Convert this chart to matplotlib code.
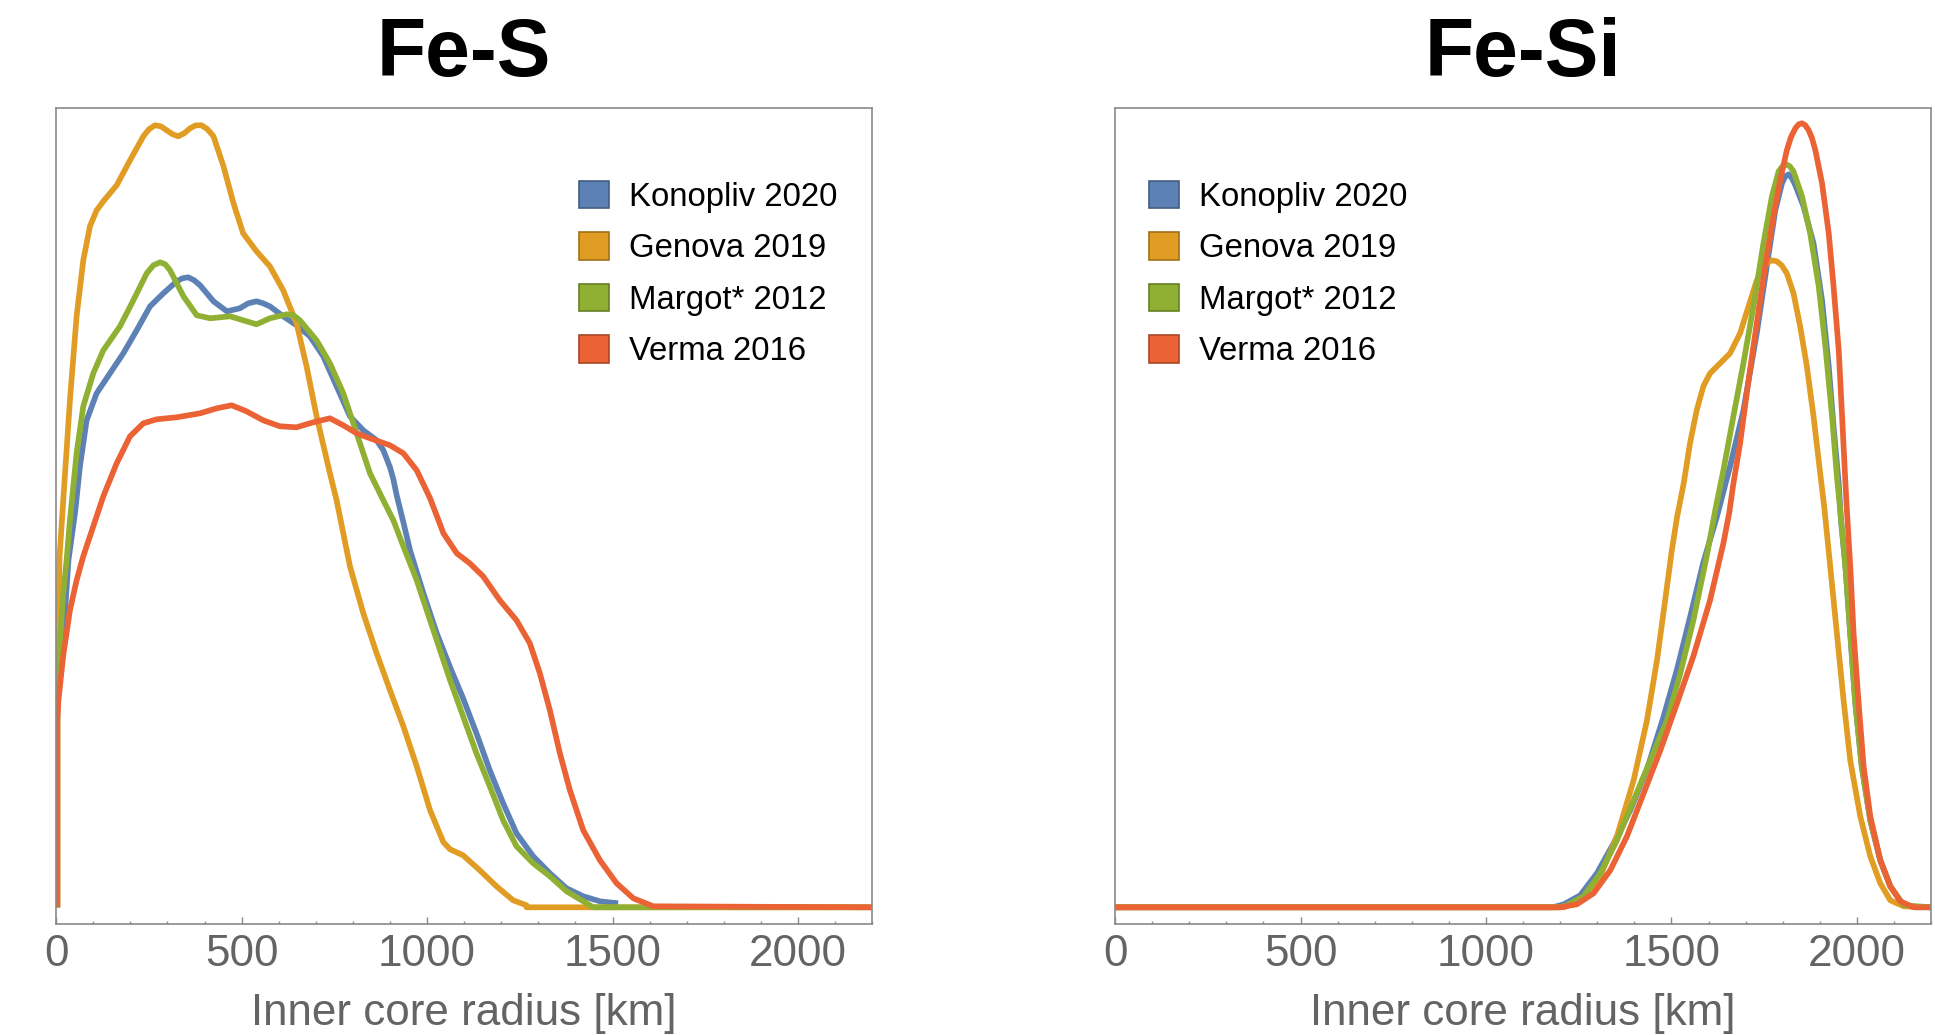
import matplotlib
matplotlib.use("Agg")
import matplotlib.pyplot as plt
from matplotlib.patches import Patch
from matplotlib.ticker import MultipleLocator
from matplotlib.colors import to_rgb

plt.rcParams['font.family'] = ['Liberation Sans', 'DejaVu Sans']

names = ["Konopliv 2020", "Genova 2019", "Margot* 2012", "Verma 2016"]
colors = ["#5E81B5", "#E19C24", "#8FB032", "#EB6235"]

# Fe-S panel (radius in km, density in arbitrary units)
konopliv_s_x = [3, 3, 15, 33, 51, 64, 82, 109, 145, 181, 217, 253, 289, 325, 340, 356,
                372, 388, 424, 460, 495, 518, 540, 558, 576, 612, 648, 684, 720, 756,
                792, 828, 864, 882, 900, 909, 918, 936, 954, 990, 1026, 1062, 1097,
                1133, 1169, 1205, 1241, 1286, 1331, 1376, 1421, 1466, 1515]
konopliv_s_y = [0, .200, .247, .347, .395, .441, .487, .514, .534, .554, .577, .601, .614,
                .626, .629, .630, .627, .622, .606, .596, .599, .604, .606, .604, .601,
                .591, .582, .571, .551, .521, .491, .477, .467, .457, .440, .428, .412,
                .385, .357, .314, .274, .240, .209, .174, .137, .104, .074, .051, .034,
                .019, .011, .006, .004]

genova_s_x = [3, 3, 6, 9, 19, 37, 55, 73, 91, 109, 127, 163, 199, 235, 250, 266, 282,
              298, 314, 329, 345, 361, 376, 392, 408, 424, 451, 478, 504, 540, 576, 612,
              648, 675, 702, 738, 756, 792, 828, 864, 900, 936, 972, 1008, 1044, 1062,
              1097, 1142, 1187, 1232, 1268, 1268, 2200]
genova_s_y = [0, .210, .290, .350, .407, .507, .591, .647, .681, .697, .706, .722, .747,
              .771, .778, .782, .781, .777, .773, .771, .774, .779, .782, .782, .778,
              .771, .741, .704, .674, .656, .641, .617, .584, .541, .491, .434, .407,
              .341, .294, .254, .217, .181, .141, .097, .065, .058, .052, .037, .021,
              .007, .002, 0, 0]

margot_s_x = [3, 3, 10, 19, 28, 37, 55, 73, 100, 127, 172, 208, 244, 262, 280, 294, 307,
              343, 379, 415, 469, 504, 540, 576, 621, 640, 657, 702, 738, 774, 810, 846,
              882, 909, 936, 972, 1008, 1044, 1062, 1097, 1133, 1169, 1205, 1241, 1286,
              1331, 1376, 1421, 1448, 2200]
margot_s_y = [0, .207, .264, .314, .347, .387, .454, .501, .534, .557, .581, .607, .634,
              .642, .645, .643, .637, .611, .592, .589, .591, .587, .583, .589, .593,
              .592, .587, .567, .544, .514, .474, .434, .407, .387, .361, .327, .287,
              .247, .227, .191, .154, .121, .087, .061, .044, .031, .016, .006, 0, 0]

verma_s_x = [3, 3, 6, 19, 37, 55, 73, 100, 127, 163, 199, 235, 271, 325, 388, 433, 473,
             513, 558, 603, 648, 693, 738, 774, 810, 846, 900, 936, 972, 1008, 1044,
             1080, 1115, 1151, 1196, 1241, 1277, 1304, 1331, 1358, 1385, 1421, 1466,
             1511, 1556, 1610, 2200]
verma_s_y = [0, .187, .207, .252, .297, .327, .351, .381, .411, .444, .471, .484, .488,
             .490, .494, .499, .502, .496, .487, .481, .480, .485, .489, .482, .474,
             .469, .462, .454, .437, .409, .374, .354, .344, .331, .307, .287, .264,
             .234, .197, .154, .117, .077, .047, .024, .009, .001, 0]

# Fe-Si panel
konopliv_si_x = [0, 1180, 1210, 1254, 1299, 1344, 1389, 1434, 1479, 1515, 1550, 1586,
                 1622, 1658, 1694, 1730, 1757, 1780, 1798, 1807, 1816, 1825, 1834, 1856,
                 1883, 1906, 1924, 1937, 1951, 1957, 1969, 1982, 1995, 2013, 2036, 2063,
                 2090, 2126, 2160, 2200]
konopliv_si_y = [0, 0, .003, .012, .034, .064, .097, .138, .191, .238, .290, .345, .390,
                 .441, .497, .574, .641, .697, .724, .731, .733, .729, .722, .701, .664,
                 .607, .541, .481, .424, .387, .341, .274, .207, .141, .087, .047, .021,
                 .002, 0, 0]

genova_si_x = [0, 1210, 1263, 1308, 1353, 1398, 1434, 1461, 1483, 1501, 1515, 1533, 1550,
               1568, 1586, 1604, 1631, 1658, 1685, 1708, 1730, 1757, 1770, 1784, 1797,
               1811, 1829, 1847, 1865, 1883, 1901, 1912, 1928, 1946, 1964, 1982, 2009,
               2036, 2063, 2090, 2126, 2200]
genova_si_y = [0, 0, .009, .031, .071, .127, .187, .247, .307, .357, .390, .424, .464,
               .497, .521, .534, .544, .554, .574, .601, .627, .644, .647, .646, .642,
               .634, .614, .581, .541, .491, .434, .400, .341, .274, .207, .147, .091,
               .051, .024, .007, .001, 0]

margot_si_x = [0, 1200, 1218, 1263, 1308, 1353, 1398, 1443, 1488, 1524, 1559, 1595, 1618,
               1640, 1667, 1694, 1721, 1748, 1771, 1789, 1799, 1809, 1819, 1829, 1852,
               1874, 1897, 1915, 1933, 1946, 1955, 1969, 1982, 1995, 2013, 2036, 2063,
               2090, 2126, 2200]
margot_si_y = [0, 0, .002, .011, .034, .067, .107, .147, .187, .234, .287, .351, .397,
               .437, .491, .544, .601, .664, .711, .736, .741, .743, .741, .736, .711,
               .674, .621, .561, .491, .431, .397, .341, .274, .207, .141, .087, .047,
               .021, .002, 0]

verma_si_x = [0, 1200, 1245, 1290, 1335, 1380, 1425, 1470, 1515, 1559, 1604, 1640, 1656,
              1667, 1685, 1703, 1721, 1739, 1757, 1775, 1793, 1811, 1822, 1834, 1843,
              1852, 1861, 1870, 1879, 1888, 1906, 1924, 1937, 1951, 1960, 1969, 1973,
              1982, 1991, 2004, 2018, 2036, 2063, 2090, 2117, 2153, 2200]
verma_si_y = [0, 0, .003, .014, .037, .071, .114, .157, .204, .251, .307, .364, .395,
              .424, .464, .514, .561, .607, .651, .691, .727, .757, .770, .779, .783,
              .784, .782, .777, .769, .757, .724, .674, .621, .557, .491, .424, .397,
              .341, .274, .207, .141, .091, .047, .021, .006, 0, 0]

panels = [
    ("Fe-S", [(konopliv_s_x, konopliv_s_y), (genova_s_x, genova_s_y),
              (margot_s_x, margot_s_y), (verma_s_x, verma_s_y)], 0.6405),
    ("Fe-Si", [(konopliv_si_x, konopliv_si_y), (genova_si_x, genova_si_y),
               (margot_si_x, margot_si_y), (verma_si_x, verma_si_y)], 0.0416),
]

W, H = 1935, 1035
fig = plt.figure(figsize=(W / 100, H / 100), dpi=100)
lefts = [56.2, 1115.1]
gray = "#8a8a8a"
label_gray = "#646464"

for left, (title, series, leg_x) in zip(lefts, panels):
    ax = fig.add_axes([left / W, 111 / H, 816 / W, 816 / H])
    for (xs, ys), c in zip(series, colors):
        ax.plot(xs, ys, color=c, lw=4.1, solid_joinstyle="round",
                solid_capstyle="butt")
    ax.set_xlim(0, 2200)
    ax.set_ylim(-0.0167, 0.7993)
    ax.set_yticks([])
    ax.xaxis.set_major_locator(MultipleLocator(500))
    ax.xaxis.set_minor_locator(MultipleLocator(100))
    ax.tick_params(axis="x", which="both", direction="in", colors=gray,
                   labelcolor=label_gray, labelsize=31.7, pad=7, width=1)
    ax.tick_params(axis="x", which="major", length=5)
    ax.tick_params(axis="x", which="minor", length=2.5)
    for sp in ax.spines.values():
        sp.set_color(gray)
        sp.set_linewidth(1.2)
    ax.set_xlabel("Inner core radius [km]", fontsize=31.7, color=label_gray,
                  labelpad=13)
    ax.set_title(title, fontsize=58, fontweight="bold", pad=23)

    handles = [Patch(facecolor=c, edgecolor=tuple(v * 0.72 for v in to_rgb(c)),
                     linewidth=1.2) for c in colors]
    ax.legend(handles, names, loc="upper left", bbox_to_anchor=(leg_x, 0.911),
              frameon=False, fontsize=23.7, handlelength=0.91, handleheight=0.91,
              handletextpad=0.6, labelspacing=0.59, borderpad=0, borderaxespad=0)

fig.savefig("out.png", dpi=100)
